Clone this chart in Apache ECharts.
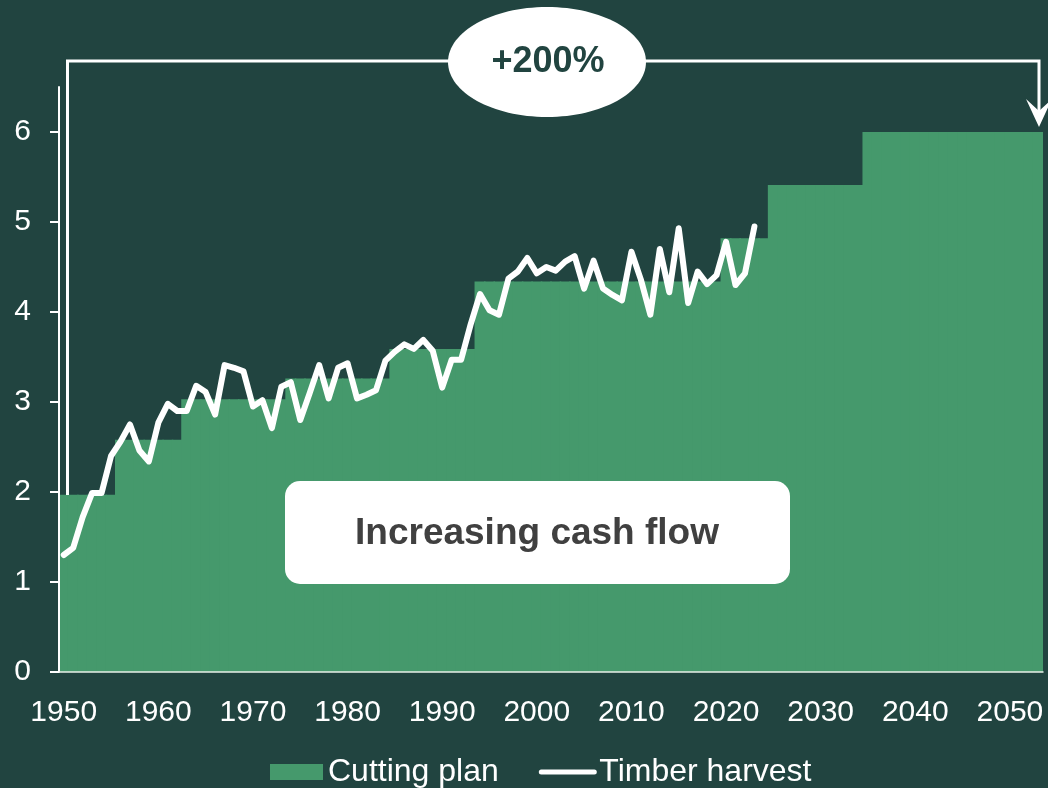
<!DOCTYPE html>
<html>
<head>
<meta charset="utf-8">
<title>Cutting plan and timber harvest</title>
<script src="https://cdn.jsdelivr.net/npm/echarts@6/dist/echarts.min.js"></script>
<style type="text/css">
html,body{margin:0;padding:0;background:#214440;}
#chart_main{width:1048px;height:788px;}
</style>
</head>
<body>
<div id="chart_main"></div>
<script type="text/javascript">
// years on the category axis
var firstYear = 1950;
var lastYear = 2053;

// cutting plan: steps (first year, last year, value)
var planStart = [1950, 1956, 1963, 1974, 1985, 1994, 2020, 2025, 2035];
var planEnd   = [1955, 1962, 1973, 1984, 1993, 2019, 2024, 2034, 2053];
var planValue = [1.97, 2.58, 3.03, 3.26, 3.59, 4.34, 4.82, 5.41, 6.00];

// timber harvest 1950 - 2023
var harvest = [
	1.30, 1.38, 1.72, 1.99, 1.99, 2.40, 2.56, 2.75, 2.46, 2.34,
	2.77, 2.98, 2.90, 2.90, 3.18, 3.11, 2.86, 3.41, 3.38, 3.34,
	2.95, 3.02, 2.71, 3.17, 3.22, 2.80, 3.10, 3.41, 3.04, 3.38,
	3.43, 3.04, 3.08, 3.13, 3.46, 3.56, 3.64, 3.59, 3.69, 3.57,
	3.16, 3.47, 3.47, 3.86, 4.20, 4.02, 3.97, 4.37, 4.45, 4.60,
	4.43, 4.50, 4.46, 4.56, 4.62, 4.26, 4.57, 4.26, 4.19, 4.13,
	4.67, 4.36, 3.97, 4.70, 4.22, 4.93, 4.10, 4.45, 4.31, 4.41,
	4.78, 4.30, 4.43, 4.95
];

var yTicks = [0, 1, 2, 3, 4, 5, 6];

var years = [];
for (var y = firstYear; y <= lastYear; y++) years.push(String(y));

var plan = [];
for (var i = 0; i < years.length; i++) {
	var yr = firstYear + i;
	var v = null;
	for (var s = 0; s < planStart.length; s++) {
		if (yr >= planStart[s] && yr <= planEnd[s]) v = planValue[s];
	}
	plan.push(v);
}

var bg = '#214440';
var green = '#45996c';
var font = 'Liberation Sans, Arial, sans-serif';

var myChart = echarts.init(document.getElementById('chart_main'));
var option = {
	backgroundColor: bg,
	animation: false,
	textStyle: {fontFamily: font},
	grid: {left: 59, right: 5, top: 87, bottom: 116},
	legend: {
		left: 270, top: 756, padding: 0,
		itemWidth: 53, itemHeight: 16, itemGap: 40,
		textStyle: {color: '#fff', fontSize: 32, fontFamily: font},
		data: [
			{name: 'Cutting plan', icon: 'rect'},
			{name: 'Timber harvest', lineStyle: {width: 5, cap: 'round'}}
		]
	},
	xAxis: {
		type: 'category',
		data: years,
		z: 5,
		axisLine: {show: true, lineStyle: {color: '#e8efe9', width: 1.5}},
		axisTick: {show: false},
		axisLabel: {
			color: '#fff', fontSize: 30, fontFamily: font, margin: 26,
			interval: function (idx, val) { return Number(val) % 10 === 0; }
		}
	},
	yAxis: {
		type: 'value',
		min: 0, max: 6.5, interval: 1,
		z: 5,
		axisLine: {show: true, lineStyle: {color: '#fff', width: 2}},
		axisTick: {show: true, length: 9, lineStyle: {color: '#fff', width: 2}, customValues: yTicks},
		axisLabel: {color: '#fff', fontSize: 30, fontFamily: font, margin: 28, customValues: yTicks},
		splitLine: {show: false}
	},
	series: [
		{
			name: 'Cutting plan',
			type: 'bar',
			data: plan,
			barWidth: 11,
			itemStyle: {color: green},
			z: 1
		},
		{
			name: 'Timber harvest',
			type: 'line',
			data: harvest,
			symbol: 'none',
			itemStyle: {color: 'rgba(0,0,0,0)'},
			lineStyle: {color: '#fff', width: 6, cap: 'round', join: 'round'},
			z: 3
		}
	],
	graphic: [
		{
			type: 'polyline', z: 10,
			shape: {points: [[67.5, 495], [67.5, 61], [1039, 61], [1039, 118]]},
			style: {stroke: '#fff', lineWidth: 3, fill: null}
		},
		{
			type: 'polygon', z: 10,
			shape: {points: [[1039, 127], [1026, 99], [1039, 111], [1052, 99]]},
			style: {fill: '#fff'}
		},
		{
			type: 'ellipse', z: 11,
			shape: {cx: 547, cy: 62, rx: 99, ry: 55},
			style: {fill: '#fff'}
		},
		{
			type: 'text', z: 12, x: 548, y: 62,
			style: {text: '+200%', fill: bg, font: 'bold 36px ' + font, align: 'center', verticalAlign: 'middle'}
		},
		{
			type: 'rect', z: 11,
			shape: {x: 285, y: 481, width: 505, height: 103, r: 15},
			style: {fill: '#fff'}
		},
		{
			type: 'text', z: 12, x: 537, y: 534,
			style: {text: 'Increasing cash flow', fill: '#404040', font: 'bold 37px ' + font, align: 'center', verticalAlign: 'middle'}
		}
	]
};
myChart.setOption(option);
</script>
</body>
</html>
